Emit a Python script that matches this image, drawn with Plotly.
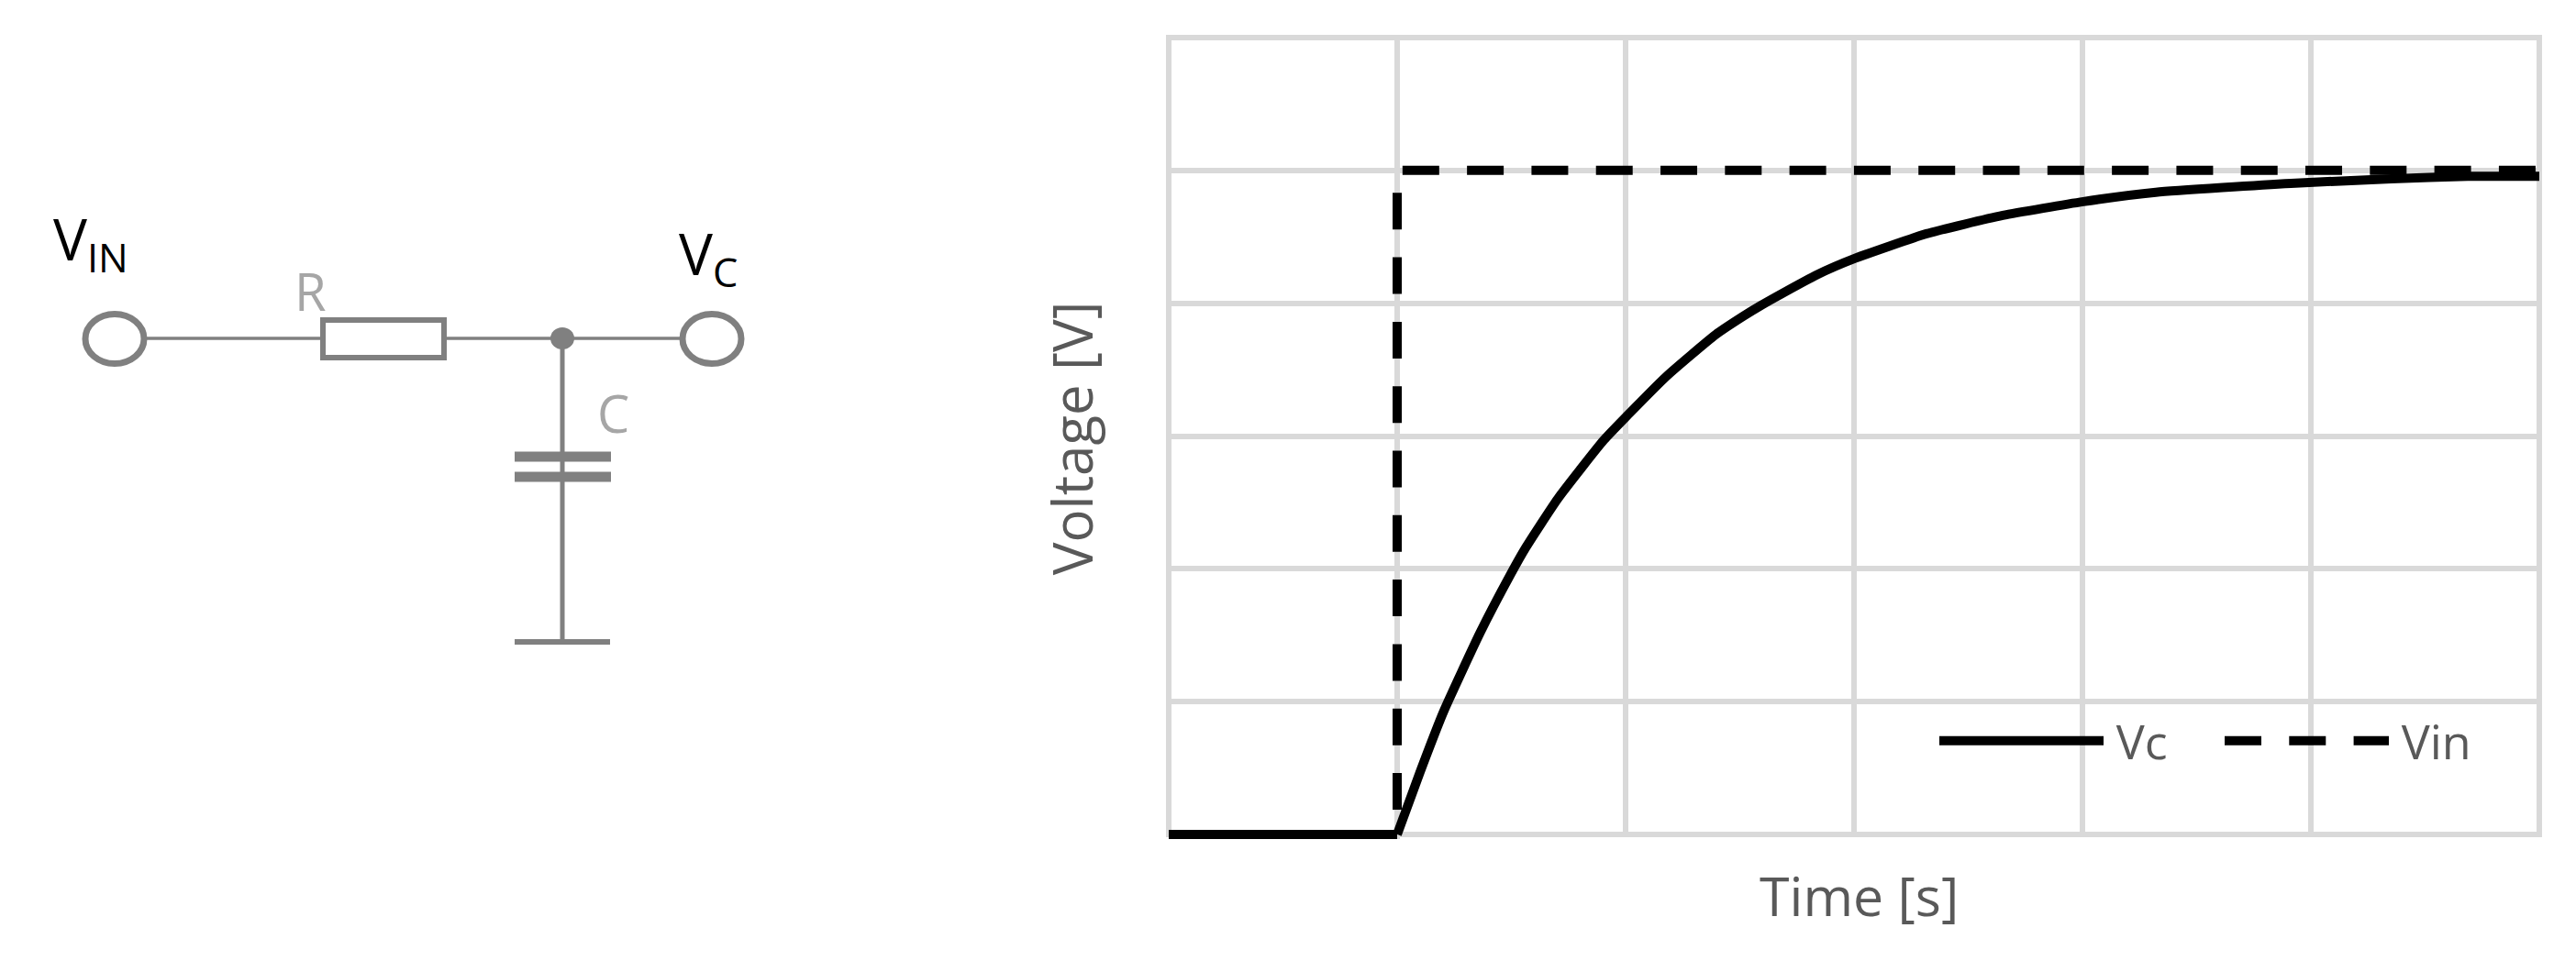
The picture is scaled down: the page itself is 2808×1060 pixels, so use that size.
import plotly.graph_objects as go

# Step response data
time_flat = [0, 1]
vc_flat = [0, 0]
time_vc = [1, 1.102, 1.202, 1.363, 1.497, 1.563, 1.704, 1.905, 2.005, 2.179, 2.394, 2.514, 2.594, 2.687, 2.835, 3.005, 3.317, 3.651, 4.004, 4.321, 4.912, 5.353, 5.687, 6.0]
vc = [0, 0.478, 0.920, 1.519, 1.960, 2.160, 2.530, 2.970, 3.150, 3.450, 3.763, 3.901, 3.985, 4.075, 4.212, 4.338, 4.523, 4.661, 4.765, 4.835, 4.902, 4.937, 4.955, 4.955]
time_vin = [0.2614, 1, 1, 6]
vin = [0, 0, 5, 5]
grid_ticks = [0, 1, 2, 3, 4, 5, 6]

# Circuit schematic, in schematic units
wire_h_x = [124, 352, None, 484, 776]
wire_h_y = [369, 369, None, 369, 369]
wire_v_x = [613, 613]
wire_v_y = [369, 700]
plate_x = [561, 666]
plate_top_y = [498, 498]
plate_bottom_y = [520, 520]
ground_x = [561, 665]
ground_y = [700, 700]
terminals = [(125, 369.5), (776, 369.5)]
resistor = (352, 349, 484, 390)
node = (613, 369)

GRID = "#D9D9D9"
TXT = "#595959"
WIRE = "#808080"
LBL = "#A6A6A6"
FONT = "Open Sans"
W, H = 2808, 1060
YPAD = 0.035
PY = 144.83
L, R, T, B = 1274, 2768, 41, 910

fig = go.Figure()
fig.add_trace(go.Scatter(x=time_vin, y=vin, name="\u2009Vin", mode="lines", xaxis="x", yaxis="y",
                         line=dict(color="black", width=10, dash="40px,30.3px")))
fig.add_trace(go.Scatter(x=time_vc, y=vc, name="\u2009Vc", mode="lines", xaxis="x", yaxis="y",
                         line=dict(color="black", width=10, shape="spline", smoothing=0.5)))
fig.add_trace(go.Scatter(x=time_flat, y=vc_flat, mode="lines", showlegend=False, xaxis="x", yaxis="y",
                         line=dict(color="black", width=10)))

for xs, ys, w in [(wire_h_x, wire_h_y, 3.5), (wire_v_x, wire_v_y, 5), (plate_x, plate_top_y, 11),
                  (plate_x, plate_bottom_y, 11), (ground_x, ground_y, 6)]:
    fig.add_trace(go.Scatter(x=xs, y=ys, mode="lines", showlegend=False, xaxis="x2", yaxis="y2",
                             line=dict(color=WIRE, width=w), hoverinfo="skip"))

shapes = [
    # plot frame
    dict(type="rect", xref="paper", yref="paper", x0=L/W, x1=R/W, y0=1-B/H, y1=1-T/H,
         line=dict(color=GRID, width=6), layer="between"),
    # hides the grid stubs below the frame, right of the Vc corner
    dict(type="rect", xref="paper", yref="paper", x0=1535/W, x1=(R+4)/W, y0=1-(B+7)/H, y1=1-(B+3)/H,
         line=dict(width=0), fillcolor="white", layer="above"),
]
for cx, cy in terminals:
    shapes.append(dict(type="circle", xref="x2", yref="y2", x0=cx-32, x1=cx+32, y0=cy-27, y1=cy+27,
                       line=dict(color=WIRE, width=7), fillcolor="white"))
shapes.append(dict(type="rect", xref="x2", yref="y2", x0=resistor[0], y0=resistor[1], x1=resistor[2], y1=resistor[3],
                   line=dict(color=WIRE, width=6), fillcolor="white"))
shapes.append(dict(type="circle", xref="x2", yref="y2", x0=node[0]-13, x1=node[0]+13, y0=node[1]-12, y1=node[1]+12,
                   line=dict(width=0), fillcolor=WIRE))

annots = [
    dict(text="V<sub>IN</sub>", x=57, y=311, color="black", size=62),
    dict(text="V<sub>C</sub>", x=739, y=327, color="black", size=62),
    dict(text="R", x=320, y=356, color=LBL, size=56),
    dict(text="C", x=650, y=489, color=LBL, size=56),
]
annotations = [dict(text=a["text"], x=a["x"], y=a["y"], xref="x2", yref="y2", showarrow=False,
                    xanchor="left", yanchor="bottom", font=dict(family=FONT, size=a["size"], color=a["color"]),
                    borderpad=0) for a in annots]
annotations.append(dict(text="Time [s]", x=2027/W, y=1-976/H, xref="paper", yref="paper", showarrow=False,
                        xanchor="center", yanchor="middle", font=dict(family=FONT, size=59, color=TXT)))

fig.update_layout(
    width=W, height=H, margin=dict(l=0, r=0, t=0, b=0, autoexpand=False),
    paper_bgcolor="white", plot_bgcolor="rgba(0,0,0,0)",
    font=dict(family=FONT, color=TXT),
    xaxis=dict(domain=[L/W, R/W], range=[0, 6], tickvals=grid_ticks,
               showticklabels=False, ticks="",
               showgrid=True, gridcolor=GRID, gridwidth=6, zeroline=False, showline=False),
    yaxis=dict(domain=[1-(B+YPAD*PY)/H, 1-T/H], range=[-YPAD, 6], tickvals=grid_ticks,
               showticklabels=False, ticks="",
               showgrid=True, gridcolor=GRID, gridwidth=6, zeroline=False, showline=False,
               title=dict(text="Voltage [V]", font=dict(size=60, color=TXT), standoff=61)),
    xaxis2=dict(domain=[0, 1100/W], range=[0, 1100], visible=False, anchor="y2"),
    yaxis2=dict(domain=[0, 1], range=[H, 0], visible=False, anchor="x2"),
    shapes=shapes, annotations=annotations,
    legend=dict(orientation="h", x=2109/W, y=1-808/H, xanchor="left", yanchor="middle",
                bgcolor="rgba(0,0,0,0)", font=dict(size=52, color=TXT), itemwidth=179,
                traceorder="reversed", entrywidth=117, entrywidthmode="pixels"),
)
fig.write_html("out.html", config=dict(displayModeBar=False),
               post_script="document.body.style.margin='0';document.body.style.overflow='hidden';")
